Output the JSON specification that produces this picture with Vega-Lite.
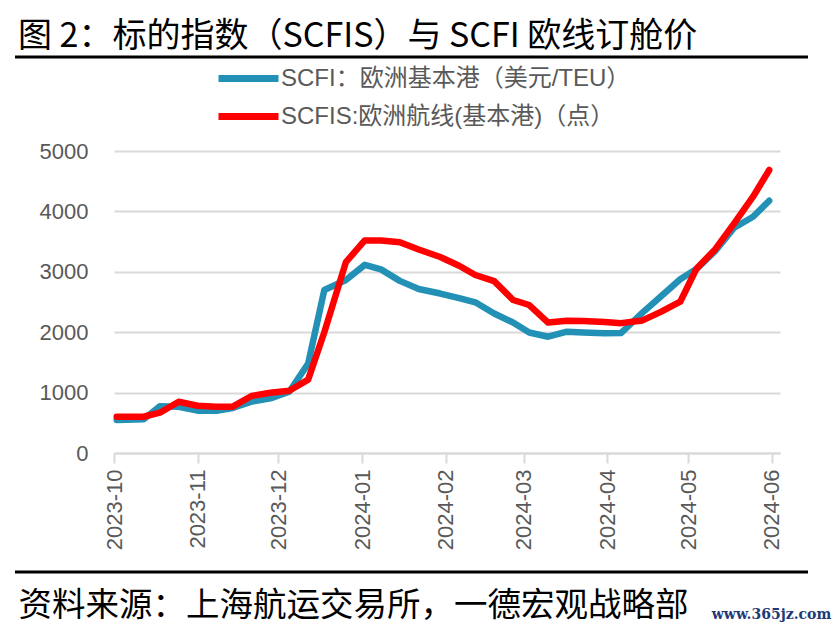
{
  "$schema": "https://vega.github.io/schema/vega-lite/v6.json",
  "width": 793,
  "height": 515,
  "autosize": {"type": "none"},
  "padding": {"left": 15, "top": 57, "right": 28, "bottom": 58},
  "background": "white",
  "title": {
    "text": "图 2：标的指数（SCFIS）与 SCFI 欧线订舱价",
    "anchor": "start",
    "frame": "group",
    "dx": 3,
    "offset": 1,
    "fontSize": 34,
    "font": "Noto Sans CJK SC",
    "fontWeight": "normal",
    "color": "#000000"
  },
  "data": {
    "values": [
      {"date": "2023-10-02", "SCFI": 548, "SCFIS": 600},
      {"date": "2023-10-12", "SCFI": 558, "SCFIS": 600},
      {"date": "2023-10-18", "SCFI": 775, "SCFIS": 667},
      {"date": "2023-10-25", "SCFI": 765, "SCFIS": 849},
      {"date": "2023-11-01", "SCFI": 701, "SCFIS": 783},
      {"date": "2023-11-08", "SCFI": 700, "SCFIS": 767},
      {"date": "2023-11-14", "SCFI": 745, "SCFIS": 767},
      {"date": "2023-11-21", "SCFI": 850, "SCFIS": 944},
      {"date": "2023-11-28", "SCFI": 905, "SCFIS": 998},
      {"date": "2023-12-05", "SCFI": 1015, "SCFIS": 1031},
      {"date": "2023-12-12", "SCFI": 1480, "SCFIS": 1215},
      {"date": "2023-12-18", "SCFI": 2699, "SCFIS": 2000},
      {"date": "2023-12-26", "SCFI": 2864, "SCFIS": 3160},
      {"date": "2024-01-02", "SCFI": 3115, "SCFIS": 3520},
      {"date": "2024-01-08", "SCFI": 3040, "SCFIS": 3520},
      {"date": "2024-01-15", "SCFI": 2850, "SCFIS": 3490},
      {"date": "2024-01-22", "SCFI": 2715, "SCFIS": 3370},
      {"date": "2024-01-30", "SCFI": 2640, "SCFIS": 3245},
      {"date": "2024-02-06", "SCFI": 2565, "SCFIS": 3101},
      {"date": "2024-02-12", "SCFI": 2495, "SCFIS": 2947},
      {"date": "2024-02-19", "SCFI": 2310, "SCFIS": 2845},
      {"date": "2024-02-26", "SCFI": 2160, "SCFIS": 2533},
      {"date": "2024-03-03", "SCFI": 1995, "SCFIS": 2450},
      {"date": "2024-03-10", "SCFI": 1925, "SCFIS": 2160},
      {"date": "2024-03-17", "SCFI": 2008, "SCFIS": 2190},
      {"date": "2024-03-23", "SCFI": 1995, "SCFIS": 2185},
      {"date": "2024-03-31", "SCFI": 1982, "SCFIS": 2168},
      {"date": "2024-04-06", "SCFI": 1985, "SCFIS": 2150},
      {"date": "2024-04-14", "SCFI": 2325, "SCFIS": 2195},
      {"date": "2024-04-21", "SCFI": 2600, "SCFIS": 2340},
      {"date": "2024-04-28", "SCFI": 2876, "SCFIS": 2505},
      {"date": "2024-05-04", "SCFI": 3045, "SCFIS": 3050},
      {"date": "2024-05-11", "SCFI": 3345, "SCFIS": 3375},
      {"date": "2024-05-18", "SCFI": 3730, "SCFIS": 3803},
      {"date": "2024-05-25", "SCFI": 3912, "SCFIS": 4243},
      {"date": "2024-05-31", "SCFI": 4177, "SCFIS": 4685}
    ]
  },
  "layer": [
    {
      "mark": {"type": "line", "strokeWidth": 6.5, "strokeJoin": "round", "strokeCap": "round"},
      "encoding": {
        "x": {
          "field": "date",
          "type": "temporal",
          "scale": {
            "domain": [
              {"year": 2023, "month": 10, "date": 1, "utc": true},
              {"year": 2024, "month": 6, "date": 4, "utc": true}
            ],
            "range": [99, 765]
          },
          "axis": {
            "tickCount": {"interval": "month", "step": 1},
            "format": "%Y-%m",
            "offset": -119,
            "grid": false,
            "domainColor": "#D9D9D9",
            "domainWidth": 2,
            "tickColor": "#D9D9D9",
            "tickWidth": 2,
            "tickSize": 10,
            "labelAngle": -90,
            "labelAlign": "right",
            "labelBaseline": "middle",
            "labelPadding": 6,
            "labelFont": "Liberation Sans",
            "labelFontSize": 22,
            "labelColor": "#595959",
            "labelFlush": false,
            "labelOverlap": false,
            "title": "资料来源：上海航运交易所，一德宏观战略部",
            "titleX": 3,
            "titleY": 152,
            "titleAlign": "left",
            "titleAnchor": "start",
            "titleBaseline": "middle",
            "titleFont": "Noto Sans CJK SC",
            "titleFontSize": 33.5,
            "titleFontWeight": "normal",
            "titleColor": "#000000"
          }
        },
        "y": {
          "field": "SCFI",
          "type": "quantitative",
          "scale": {"domain": [0, 5000], "range": [396, 94], "nice": false, "zero": false},
          "axis": {
            "values": [0, 1000, 2000, 3000, 4000, 5000],
            "format": "d",
            "offset": -99,
            "domain": false,
            "ticks": false,
            "grid": true,
            "gridColor": "#D9D9D9",
            "gridWidth": 2,
            "labelPadding": 26,
            "labelFont": "Liberation Sans",
            "labelFontSize": 22,
            "labelColor": "#595959",
            "title": "www.365jz.com",
            "titleAngle": 0,
            "titleX": 657,
            "titleY": 557,
            "titleAlign": "center",
            "titleBaseline": "middle",
            "titleFont": "DejaVu Serif",
            "titleFontSize": 14,
            "titleFontWeight": "bold",
            "titleColor": "#1E3A78"
          }
        },
        "color": {
          "datum": "SCFI：欧洲基本港（美元/TEU）",
          "type": "nominal",
          "scale": {
            "domain": ["SCFI：欧洲基本港（美元/TEU）", "SCFIS:欧洲航线(基本港)（点）"],
            "range": ["#2391B6", "#FF0000"]
          },
          "legend": {
            "title": null,
            "orient": "none",
            "legendX": 210,
            "legendY": -2,
            "direction": "vertical",
            "symbolType": "M-1.5,0H1.5",
            "symbolSize": 1600,
            "symbolStrokeWidth": 7,
            "labelOffset": 9,
            "labelFont": "Liberation Sans, Noto Sans CJK SC",
            "labelFontSize": 24,
            "labelColor": "#595959",
            "labelLimit": 600,
            "rowPadding": -7,
            "padding": 0
          }
        }
      }
    },
    {
      "mark": {"type": "line", "strokeWidth": 6.5, "strokeJoin": "round", "strokeCap": "round"},
      "encoding": {
        "x": {"field": "date", "type": "temporal"},
        "y": {"field": "SCFIS", "type": "quantitative"},
        "color": {"datum": "SCFIS:欧洲航线(基本港)（点）", "type": "nominal"}
      }
    }
  ],
  "config": {
    "view": {"stroke": "#000000", "strokeWidth": 3, "strokeDash": [793, 515]}
  }
}
